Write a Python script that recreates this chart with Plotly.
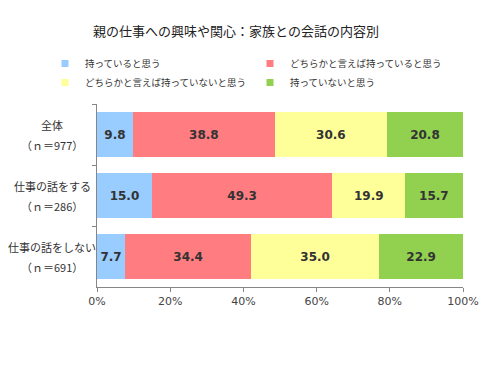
import plotly.graph_objects as go

categories = ["全体", "仕事の話をする", "仕事の話をしない"]
sample_sizes = ["（ｎ＝977）", "（ｎ＝286）", "（ｎ＝691）"]
series_names = ["持っていると思う", "どちらかと言えば持っていると思う",
                "どちらかと言えば持っていないと思う", "持っていないと思う"]
s1 = [9.8, 15.0, 7.7]
s2 = [38.8, 49.3, 34.4]
s3 = [30.6, 19.9, 35.0]
s4 = [20.8, 15.7, 22.9]
colors = ["#99CCFF", "#FF7C80", "#FFFF99", "#92D050"]
x_ticks = [0, 20, 40, 60, 80, 100]
x_tick_labels = ["0%", "20%", "40%", "60%", "80%", "100%"]

FONT = "Noto Sans CJK JP"
# the page has an 8px body margin, so the figure is 8px smaller than the window
W, H = 491, 357
L, R, T, B = 89, 36, 96, 78
PW, PH = W - L - R, H - T - B

fig = go.Figure()
for name, vals, col in zip(series_names, [s1, s2, s3, s4], colors):
    fig.add_trace(go.Bar(
        y=categories, x=vals, orientation="h", name=name,
        marker=dict(color=col, line=dict(width=0)),
        text=[f"{v:.1f}" for v in vals], textposition="inside",
        insidetextanchor="middle", textangle=0, constraintext="none",
        textfont=dict(family="Verdana, DejaVu Sans", size=12, color="#333333", weight="bold"),
        showlegend=False, width=0.75,
    ))
    fig.add_trace(go.Scatter(
        x=[None], y=[None], mode="markers", name=name,
        marker=dict(symbol="square", size=7, color=col), showlegend=True,
    ))

for cat, n in zip(categories, sample_sizes):
    for txt, shift in ((cat, 10), (n, -10)):
        fig.add_annotation(
            x=(44 - L) / PW, xref="x domain", y=cat, yref="y", xanchor="center", yanchor="middle",
            yshift=shift, text=txt, showarrow=False, align="center",
            font=dict(family=FONT, size=11, color="#333333"),
        )

fig.update_layout(
    width=W, height=H,
    margin=dict(l=L, r=R, t=T, b=B, autoexpand=False),
    barmode="stack", bargap=0.25,
    paper_bgcolor="white", plot_bgcolor="white",
    font=dict(family=FONT, size=11, color="#333333"),
    title=dict(text="親の仕事への興味や関心：家族との会話の内容別", x=228 / W, xanchor="center",
               xref="container", yref="container",
               y=1 - 23 / H, yanchor="middle", font=dict(family=FONT, size=13, color="#222222")),
    legend=dict(orientation="h", x=(37 - L) / PW, xanchor="left",
                y=1 + (T - 41) / PH, yanchor="top",
                entrywidth=160, entrywidthmode="pixels", traceorder="normal",
                font=dict(family=FONT, size=9.5, color="#333333"),
                itemwidth=30, tracegroupgap=0),
    xaxis=dict(range=[0, 100], tickvals=x_ticks, ticktext=x_tick_labels,
               showgrid=False, showline=True, linecolor="#868686", linewidth=1,
               ticks="outside", ticklen=4, tickcolor="#868686", zeroline=False,
               tickfont=dict(family="Verdana, DejaVu Sans", size=11, color="#444444")),
    yaxis=dict(categoryorder="array", categoryarray=categories, autorange="reversed",
               showgrid=False, showline=True, linecolor="#868686", linewidth=1,
               ticks="outside", ticklen=4, tickcolor="#868686", tickson="boundaries",
               showticklabels=False),
)

fig.write_html("out.html")
